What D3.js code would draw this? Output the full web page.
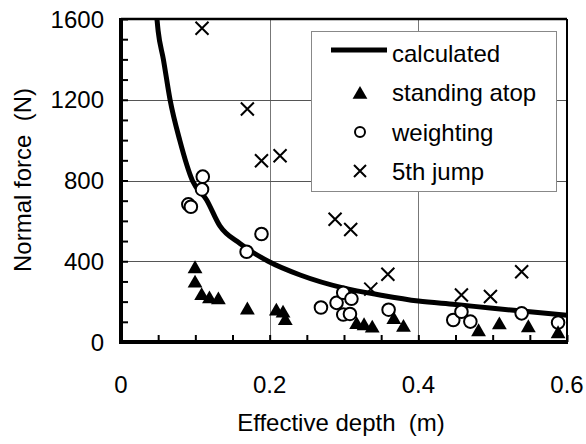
<!DOCTYPE html>
<html>
<head>
<meta charset="utf-8">
<script src="https://cdn.jsdelivr.net/npm/d3@7"></script>
<style>
  body { margin: 0; background: #fff; }
  svg text { font-family: "Liberation Sans", Arial, sans-serif; fill: #000; white-space: pre; }
</style>
</head>
<body>
<div id="chart"></div>
<script>
// calculated curve
const calcDepth = [0.046, 0.05, 0.057, 0.066, 0.079, 0.096, 0.115, 0.133, 0.16, 0.198, 0.241, 0.3, 0.35, 0.4, 0.45, 0.5, 0.55, 0.6];
const calcForce = [1700, 1540, 1400, 1200, 1000, 800, 705, 575, 488, 400, 332, 267, 232, 203, 186, 167, 150, 133];

// standing atop (triangles)
const standDepth = [0.0996, 0.0996, 0.1085, 0.119, 0.131, 0.170, 0.209, 0.218, 0.221, 0.317, 0.327, 0.338, 0.367, 0.380, 0.481, 0.509, 0.548, 0.588];
const standForce = [362, 291, 229, 213, 208, 158, 152, 142, 105, 85, 80, 68, 110, 72, 50, 84, 70, 40];

// weighting (circles)
const weighDepth = [0.110, 0.109, 0.0906, 0.094, 0.189, 0.169, 0.269, 0.290, 0.299, 0.310, 0.299, 0.308, 0.360, 0.447, 0.458, 0.470, 0.539, 0.588];
const weighForce = [819, 756, 682, 670, 535, 447, 171, 194, 244, 214, 136, 139, 160, 109, 150, 101, 142, 96];

// 5th jump (crosses)
const jumpDepth = [0.109, 0.170, 0.189, 0.214, 0.288, 0.309, 0.336, 0.359, 0.458, 0.497, 0.539];
const jumpForce = [1554, 1154, 898, 923, 608, 557, 262, 336, 233, 225, 348];

const xTicks = [0, 0.2, 0.4, 0.6];
const yTicks = [0, 400, 800, 1200, 1600];

const width = 586;
const height = 444;
const margin = { top: 19, right: 19, bottom: 102, left: 121 };

const svg = d3.select('#chart')
  .append('svg')
  .attr('width', width)
  .attr('height', height);

const x = d3.scaleLinear()
  .domain([0, 0.6])
  .range([margin.left, width - margin.right]);

const y = d3.scaleLinear()
  .domain([0, 1600])
  .range([height - margin.bottom, margin.top]);

svg.append('clipPath').attr('id', 'plot')
  .append('rect')
  .attr('x', margin.left).attr('y', margin.top)
  .attr('width', x(0.6) - x(0)).attr('height', y(0) - y(1600));

// grid
svg.append('g')
  .selectAll('line')
  .data([0.2, 0.4])
  .join('line')
  .attr('x1', d => Math.round(x(d)) + 0.5).attr('x2', d => Math.round(x(d)) + 0.5)
  .attr('y1', y(1600)).attr('y2', y(0))
  .attr('stroke', '#777').attr('stroke-width', 1);

svg.append('g')
  .selectAll('line')
  .data([400, 800, 1200])
  .join('line')
  .attr('x1', x(0)).attr('x2', x(0.6))
  .attr('y1', d => Math.round(y(d)) + 0.5).attr('y2', d => Math.round(y(d)) + 0.5)
  .attr('stroke', '#555').attr('stroke-width', 1);

// axes with inward minor ticks
const xAxis = svg.append('g')
  .attr('transform', `translate(0, ${y(0)})`)
  .call(d3.axisTop(x).tickValues(d3.range(0, 0.601, 0.05)).tickSize(7).tickFormat(''));
const yAxis = svg.append('g')
  .attr('transform', `translate(${x(0)}, 0)`)
  .call(d3.axisRight(y).tickValues(d3.range(0, 1601, 100)).tickSize(7).tickFormat(''));

[xAxis, yAxis].forEach(a => {
  a.select('.domain').remove();
  a.selectAll('line').attr('stroke', '#000').attr('stroke-width', 2);
});

// frame
svg.append('line')
  .attr('x1', x(0)).attr('x2', x(0.6)).attr('y1', y(1600)).attr('y2', y(1600))
  .attr('stroke', '#000').attr('stroke-width', 2.5);
svg.append('line')
  .attr('x1', x(0.6)).attr('x2', x(0.6)).attr('y1', y(1600)).attr('y2', y(0))
  .attr('stroke', '#000').attr('stroke-width', 2);
svg.append('line')
  .attr('x1', x(0)).attr('x2', x(0)).attr('y1', y(1600) - 1).attr('y2', y(0) + 2)
  .attr('stroke', '#000').attr('stroke-width', 4);
svg.append('line')
  .attr('x1', x(0) - 2).attr('x2', x(0.6) + 1).attr('y1', y(0)).attr('y2', y(0))
  .attr('stroke', '#000').attr('stroke-width', 4);

// tick labels
svg.append('g')
  .selectAll('text')
  .data(yTicks)
  .join('text')
  .attr('x', 104)
  .attr('y', d => y(d) + 8.5)
  .attr('text-anchor', 'end')
  .attr('font-size', 24)
  .text(d => d);

svg.append('g')
  .selectAll('text')
  .data(xTicks)
  .join('text')
  .attr('x', d => x(d))
  .attr('y', 393)
  .attr('text-anchor', 'middle')
  .attr('font-size', 24)
  .text(d => d);

// axis titles
svg.append('text')
  .attr('x', 341)
  .attr('y', 431)
  .attr('text-anchor', 'middle')
  .attr('font-size', 24)
  .text('Effective depth  (m)');

svg.append('text')
  .attr('transform', 'rotate(-90)')
  .attr('x', -180)
  .attr('y', 31)
  .attr('text-anchor', 'middle')
  .attr('font-size', 24)
  .text('Normal force  (N)');

// calculated curve
const calc = calcDepth.map((d, i) => ({ d, f: calcForce[i] }));
svg.append('path')
  .datum(calc)
  .attr('clip-path', 'url(#plot)')
  .attr('fill', 'none')
  .attr('stroke', '#000')
  .attr('stroke-width', 5)
  .attr('d', d3.line().x(p => x(p.d)).y(p => y(p.f)).curve(d3.curveMonotoneX));

// marker helpers
const tri = d3.symbol().type(d3.symbolTriangle).size(95);
function cross(g, cx, cy, r) {
  g.append('path')
    .attr('d', `M${cx - r},${cy - r}L${cx + r},${cy + r}M${cx - r},${cy + r}L${cx + r},${cy - r}`)
    .attr('stroke', '#000').attr('stroke-width', 2).attr('fill', 'none');
}

// weighting circles
svg.append('g')
  .selectAll('circle')
  .data(weighDepth.map((d, i) => ({ d, f: weighForce[i] })))
  .join('circle')
  .attr('cx', p => x(p.d))
  .attr('cy', p => y(p.f))
  .attr('r', 6.3)
  .attr('fill', '#fff')
  .attr('stroke', '#000')
  .attr('stroke-width', 2);

// standing atop triangles
svg.append('g')
  .selectAll('path')
  .data(standDepth.map((d, i) => ({ d, f: standForce[i] })))
  .join('path')
  .attr('transform', p => `translate(${x(p.d)}, ${y(p.f)})`)
  .attr('d', tri)
  .attr('fill', '#000');

// 5th jump crosses
const jumpG = svg.append('g');
jumpDepth.forEach((d, i) => cross(jumpG, x(d), y(jumpForce[i]), 6.5));

// legend
const lg = svg.append('g');
lg.append('rect')
  .attr('x', 311.5).attr('y', 31.5)
  .attr('width', 245).attr('height', 160)
  .attr('fill', '#fff')
  .attr('stroke', '#888').attr('stroke-width', 1);

const marks = [50, 94.5, 132, 171];
const baselines = [61.5, 101, 140.5, 180];
const labels = ['calculated', 'standing atop', 'weighting', '5th jump'];

lg.append('line')
  .attr('x1', 331).attr('x2', 387).attr('y1', marks[0]).attr('y2', marks[0])
  .attr('stroke', '#000').attr('stroke-width', 5);
lg.append('path')
  .attr('transform', `translate(360, ${marks[1]})`)
  .attr('d', d3.symbol().type(d3.symbolTriangle).size(95))
  .attr('fill', '#000');
lg.append('circle')
  .attr('cx', 360).attr('cy', marks[2]).attr('r', 5)
  .attr('fill', '#fff').attr('stroke', '#000').attr('stroke-width', 2);
cross(lg, 360, marks[3], 6);

lg.selectAll('text.lab')
  .data(labels)
  .join('text')
  .attr('class', 'lab')
  .attr('x', 392)
  .attr('y', (d, i) => baselines[i])
  .attr('font-size', 24)
  .text(d => d);
</script>
</body>
</html>
